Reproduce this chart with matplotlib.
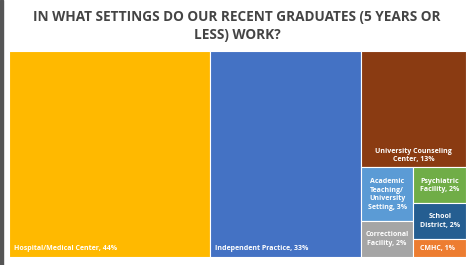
import matplotlib.pyplot as plt
from matplotlib.patches import Rectangle

# data
labels = ['Hospital/Medical Center', 'Independent Practice', 'University Counseling\nCenter',
          'Academic\nTeaching/\nUniversity\nSetting', 'Correctional\nFacility',
          'Psychiatric\nFacility', 'School\nDistrict', 'CMHC']
values = [44, 33, 13, 3, 2, 2, 2, 1]
colors = ['#FFB900', '#4472C4', '#8A3B12', '#5B9BD5', '#A5A5A5', '#70AD47', '#255E91', '#ED7D31']


def split_x(x, y, w, h, vals):
    # vertical strips, left to right
    out, tot, cx = [], sum(vals), x
    for v in vals:
        cw = w * v / tot
        out.append((cx, y, cw, h))
        cx += cw
    return out


def split_y(x, y, w, h, vals):
    # horizontal strips, top to bottom (y axis goes down)
    out, tot, cy = [], sum(vals), y
    for v in vals:
        ch = h * v / tot
        out.append((x, cy, w, ch))
        cy += ch
    return out


# treemap layout: three columns, last one nested
W, H = 100.0, 100.0
cols = split_x(0, 0, W, H, [values[0], values[1], sum(values[2:])])
rects = [cols[0], cols[1]]
uc, low = split_y(*cols[2], [values[2], sum(values[3:])])
rects.append(uc)
left, right = split_x(*low, [sum(values[3:5]), sum(values[5:])])
rects += split_y(*left, values[3:5])
rects += split_y(*right, values[5:])

fig = plt.figure(figsize=(4.74, 2.65), dpi=100)
ax = fig.add_axes([9 / 474, 8 / 265, 457 / 474, 206 / 265])
ax.set_xlim(0, W)
ax.set_ylim(H, 0)
ax.axis('off')

fig.patches.append(Rectangle((0, 0), 3 / 474, 1, transform=fig.transFigure, color='#555555'))

fs = 5.0
kw = dict(color='white', fontsize=fs, fontweight='bold', family='Open Sans')
for i, (x, y, w, h) in enumerate(rects):
    ax.add_patch(Rectangle((x, y), w, h, facecolor=colors[i], edgecolor='white', linewidth=0.8))
    txt = labels[i] + ', ' + str(values[i]) + '%'
    if i < 2:
        ax.text(x + 1, y + h - 2.5, txt, ha='left', va='bottom', **kw)
    elif i == 7:
        ax.text(x + 1.5, y + h / 2, txt, ha='left', va='center', **kw)
    elif i == 2:
        ax.text(x + w / 2, y + h - 2, txt, ha='center', va='bottom', linespacing=1.3, **kw)
    else:
        ax.text(x + w / 2, y + h / 2, txt, ha='center', va='center', linespacing=1.3, **kw)

fig.text(0.5, 0.903, 'IN WHAT SETTINGS DO OUR RECENT GRADUATES (5 YEARS OR\nLESS) WORK?',
         ha='center', va='center', fontsize=9.85, fontweight='bold', color='#444444',
         family='Open Sans', linespacing=1.35)

fig.savefig('out.png', dpi=100)
